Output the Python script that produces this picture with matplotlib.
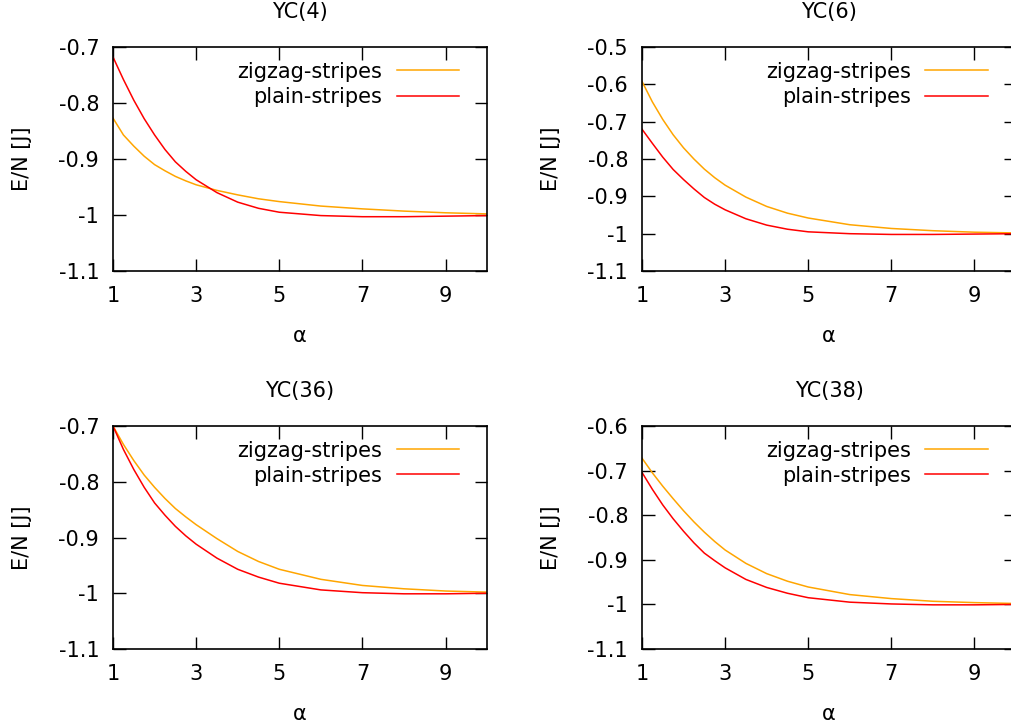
import matplotlib
matplotlib.use("Agg")
import matplotlib.pyplot as plt

# alpha values where the curves were read
alpha = [1, 1.25, 1.5, 1.75, 2, 2.25, 2.5, 2.75, 3, 3.5, 4, 4.5, 5, 6, 7, 8, 9, 10]

titles = ["YC(4)", "YC(6)", "YC(36)", "YC(38)"]

zigzag_yc4 = [-0.827, -0.857, -0.877, -0.895, -0.910, -0.921, -0.931, -0.939, -0.946, -0.956, -0.964, -0.971, -0.976, -0.984, -0.989, -0.993, -0.996, -0.998]
plain_yc4 = [-0.718, -0.758, -0.795, -0.828, -0.857, -0.883, -0.905, -0.922, -0.937, -0.960, -0.977, -0.988, -0.995, -1.001, -1.003, -1.003, -1.002, -1.001]

zigzag_yc6 = [-0.592, -0.647, -0.694, -0.735, -0.770, -0.800, -0.827, -0.850, -0.870, -0.902, -0.927, -0.945, -0.958, -0.976, -0.986, -0.992, -0.996, -0.998]
plain_yc6 = [-0.720, -0.758, -0.795, -0.828, -0.855, -0.880, -0.903, -0.921, -0.936, -0.960, -0.977, -0.988, -0.995, -1.000, -1.002, -1.002, -1.001, -1.000]

zigzag_yc36 = [-0.700, -0.733, -0.762, -0.788, -0.810, -0.830, -0.848, -0.863, -0.877, -0.902, -0.925, -0.943, -0.957, -0.975, -0.986, -0.992, -0.996, -0.998]
plain_yc36 = [-0.700, -0.742, -0.778, -0.810, -0.838, -0.860, -0.880, -0.897, -0.912, -0.937, -0.957, -0.971, -0.982, -0.994, -0.999, -1.001, -1.001, -1.000]

zigzag_yc38 = [-0.672, -0.705, -0.735, -0.763, -0.790, -0.815, -0.838, -0.859, -0.878, -0.908, -0.931, -0.948, -0.961, -0.978, -0.987, -0.993, -0.996, -0.998]
plain_yc38 = [-0.704, -0.742, -0.777, -0.808, -0.836, -0.862, -0.885, -0.902, -0.918, -0.944, -0.962, -0.975, -0.985, -0.995, -0.999, -1.001, -1.001, -1.000]

zigzag = [zigzag_yc4, zigzag_yc6, zigzag_yc36, zigzag_yc38]
plain = [plain_yc4, plain_yc6, plain_yc36, plain_yc38]
ytops = [-0.7, -0.5, -0.7, -0.6]

plt.rcParams['font.family'] = 'DejaVu Sans'
plt.rcParams['font.size'] = 15

fig = plt.figure(figsize=(10.11, 7.27), dpi=100)

# axes boxes in figure fractions [left, bottom, width, height]
boxes = [
    [0.1118, 0.6272, 0.370, 0.3081],
    [0.6350, 0.6272, 0.370, 0.3081],
    [0.1118, 0.1073, 0.370, 0.3067],
    [0.6350, 0.1073, 0.370, 0.3067],
]

for i in range(4):
    ax = fig.add_axes(boxes[i])
    ax.plot(alpha, zigzag[i], color='#ffa500', lw=1.1, label='zigzag-stripes')
    ax.plot(alpha, plain[i], color='#ff0000', lw=1.1, label='plain-stripes')
    ax.set_xlim(1, 10)
    ax.set_ylim(-1.1, ytops[i])
    ax.set_xticks([1, 3, 5, 7, 9])
    yt = [round(-1.1 + 0.1 * k, 1) for k in range(int(round((ytops[i] + 1.1) / 0.1)) + 1)]
    ax.set_yticks(yt)
    ax.set_yticklabels(['%g' % v for v in yt])
    ax.tick_params(direction='in', length=9, width=1, top=True, right=True,
                   labelsize=15)
    ax.tick_params(axis='x', pad=11)
    ax.tick_params(axis='y', pad=10)
    for s in ax.spines.values():
        s.set_linewidth(1.2)
    ax.set_title(titles[i], fontsize=15, pad=21)
    ax.set_xlabel('α', fontsize=15, labelpad=14)
    ax.set_ylabel('E/N [J]', fontsize=15, labelpad=19)
    ax.legend(loc='upper right', bbox_to_anchor=(0.925, 0.935), frameon=False,
              markerfirst=False, handlelength=3.0, handletextpad=0.7,
              labelspacing=0.25, borderpad=0, borderaxespad=0, fontsize=15)

fig.savefig('out.png', dpi=100)
